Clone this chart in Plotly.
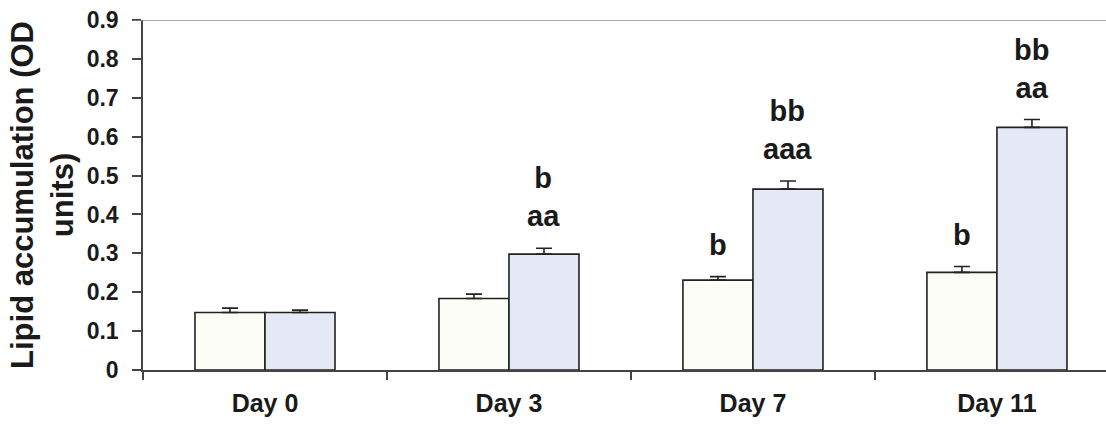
import plotly.graph_objects as go

categories = ["Day 0", "Day 3", "Day 7", "Day 11"]
control = [0.148, 0.184, 0.231, 0.251]
control_err = [0.011, 0.011, 0.009, 0.015]
treated = [0.148, 0.298, 0.465, 0.624]
treated_err = [0.006, 0.015, 0.021, 0.020]
control_labels = ["", "", "b", "b"]
treated_labels = ["", "b<br>aa", "bb<br>aaa", "bb<br>aa"]
y_ticks = [0, 0.1, 0.2, 0.3, 0.4, 0.5, 0.6, 0.7, 0.8, 0.9]
y_ticktext = ["0", "0.1", "0.2", "0.3", "0.4", "0.5", "0.6", "0.7", "0.8", "0.9"]

FONT = "Liberation Sans, Arial, sans-serif"
DARK = "#222222"
BARGAP = 0.426

fig = go.Figure()
fig.add_trace(go.Bar(
    x=categories, y=control, name="Control",
    marker=dict(color="#fdfdf8", line=dict(color=DARK, width=1.6)),
    error_y=dict(type="data", array=control_err, symmetric=False, arrayminus=[0]*4,
                 color=DARK, thickness=1.6, width=8),
))
fig.add_trace(go.Bar(
    x=categories, y=treated, name="Treated",
    marker=dict(color="#e5e8f5", line=dict(color=DARK, width=1.6)),
    error_y=dict(type="data", array=treated_err, symmetric=False, arrayminus=[0]*4,
                 color=DARK, thickness=1.6, width=8),
))

half = (1 - BARGAP) / 4
annotations = []
for i in range(len(categories)):
    for lab, val, err, sgn in ((control_labels[i], control[i], control_err[i], -1),
                               (treated_labels[i], treated[i], treated_err[i], 1)):
        if lab:
            annotations.append(dict(
                x=i + sgn * half, y=val + err, xref="x", yref="y",
                text="<b>" + lab + "</b>", showarrow=False,
                yanchor="bottom", xanchor="center", yshift=14,
                font=dict(family=FONT, size=29, color="#1a1a1a"),
            ))

fig.update_layout(
    width=1106, height=424,
    margin=dict(l=143, r=0, t=20, b=54),
    paper_bgcolor="white", plot_bgcolor="white",
    barmode="group", bargap=BARGAP, bargroupgap=0,
    showlegend=False,
    annotations=annotations,
    font=dict(family=FONT, color="#1a1a1a"),
)
fig.update_xaxes(
    range=[-0.5, 3.447], showline=True, linecolor="#444", linewidth=1.5,
    ticks="outside", tickson="boundaries", ticklen=8, tickcolor="#444", tickwidth=1.5,
    tickfont=dict(family=FONT, size=25, color="#1a1a1a"),
    tickprefix="<b>", ticksuffix="</b>",
    ticklabelstandoff=10, showgrid=False, zeroline=False,
)
fig.update_yaxes(
    range=[0, 0.9], tickvals=y_ticks, ticktext=["<b>" + t + "</b>" for t in y_ticktext],
    showline=True, linecolor="#444", linewidth=1.5,
    ticks="outside", ticklen=9, tickcolor="#444", tickwidth=1.5,
    tickfont=dict(family=FONT, size=23, color="#1a1a1a"),
    ticklabelstandoff=9, showgrid=False, zeroline=False,
    title=dict(text="<b>Lipid accumulation (OD<br>units)</b>", standoff=4,
               font=dict(family=FONT, size=31, color="#1a1a1a")),
    automargin=False,
)
fig.add_shape(type="line", xref="paper", yref="y", x0=-0.01, x1=1, y0=0.9, y1=0.9,
              line=dict(color="#8a8a8a", width=1.5))
fig.write_html("out.html")
